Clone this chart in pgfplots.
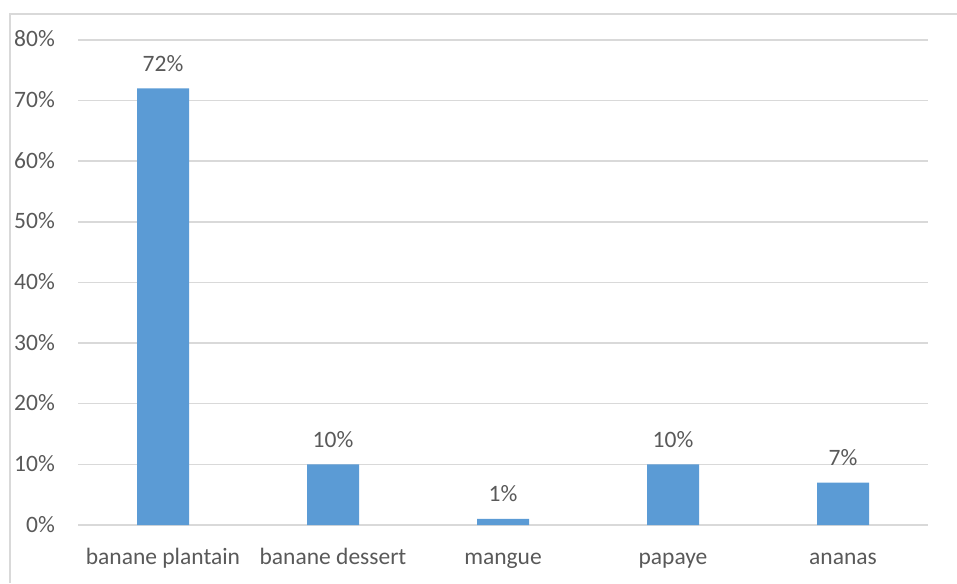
\documentclass[border=0pt]{standalone}
\usepackage{pgfplots}
\pgfplotsset{compat=1.18}
\usepackage{fontspec}
\setmainfont{Carlito}
\definecolor{barblue}{HTML}{5B9BD5}
\definecolor{gridgray}{HTML}{D9D9D9}
\definecolor{textgray}{HTML}{595959}
\begin{document}
\fontsize{23.5}{28}\selectfont
\begin{tikzpicture}[x=1pt,y=1pt]
\useasboundingbox (0,0) rectangle (957,583);
% chart frame (top and left edges)
\draw[gridgray, line width=1.5pt] (10,0) -- (10,569) -- (957,569);
\begin{axis}[
  at={(78pt,58pt)}, anchor=south west,
  scale only axis,
  width=850pt, height=485pt,
  xmin=-0.5, xmax=4.5,
  ymin=0, ymax=80,
  ytick={0,10,...,80},
  yticklabel={\pgfmathprintnumber{\tick}\%},
  xtick=data,
  xticklabels={banane plantain, banane dessert, mangue, papaye, ananas},
  axis line style={draw=none},
  major tick length=0pt,
  ymajorgrids,
  grid style={gridgray, line width=1.5pt},
  /pgf/number format/assume math mode=true,
  ticklabel style={text=textgray, font=\fontsize{23.5}{28}\selectfont, inner sep=0pt},
  yticklabel style={anchor=base east, xshift=-23pt, yshift=-7pt},
  xticklabel style={anchor=base, yshift=-39pt},
  ybar, bar width=52pt,
  nodes near coords={\pgfmathprintnumber{\pgfplotspointmeta}\%},
  nodes near coords style={text=textgray, font=\fontsize{23.5}{28}\selectfont, anchor=base, inner sep=0pt, yshift=17pt},
  clip=false,
]
\addplot[fill=barblue, draw=none] coordinates {(0,72) (1,10) (2,1) (3,10) (4,7)};
\end{axis}
\end{tikzpicture}
\end{document}
